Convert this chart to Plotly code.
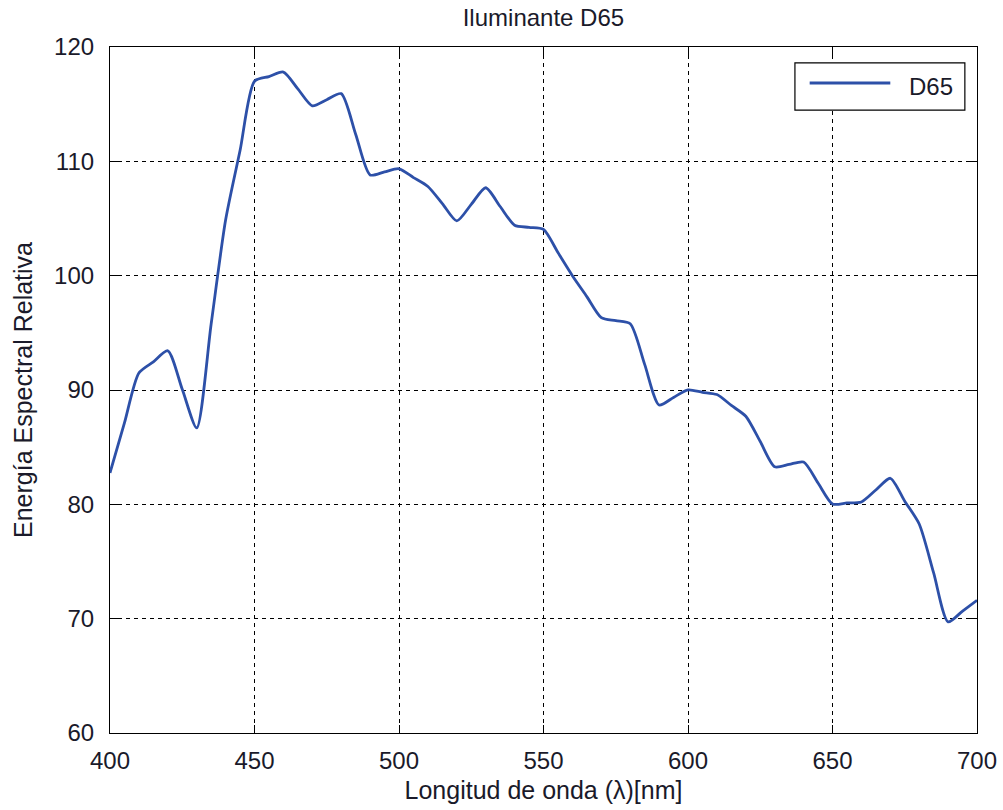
import plotly.graph_objects as go

wavelength = list(range(400, 705, 5))
d65 = [82.75, 87.12, 91.49, 92.46, 93.43, 90.06, 86.68, 95.77, 104.86, 110.94,
       117.01, 117.41, 117.81, 116.34, 114.86, 115.39, 115.92, 112.37, 108.81, 109.08,
       109.35, 108.58, 107.80, 106.30, 104.79, 106.24, 107.69, 106.05, 104.41, 104.23,
       104.05, 102.02, 100.00, 98.17, 96.33, 96.06, 95.79, 92.24, 88.69, 89.35,
       90.01, 89.80, 89.60, 88.65, 87.70, 85.49, 83.29, 83.49, 83.70, 81.86,
       80.03, 80.12, 80.21, 81.25, 82.28, 80.28, 78.28, 74.00, 69.72, 70.67, 71.61]
x_ticks = [400, 450, 500, 550, 600, 650, 700]
y_ticks = [60, 70, 80, 90, 100, 110, 120]
series_name = "D65"
title_text = "Iluminante D65"
x_title = "Longitud de onda (λ)[nm]"
y_title = "Energía Espectral Relativa"

LINE = "#2D50A8"
FONT = "Liberation Sans, Arial, sans-serif"

fig = go.Figure()
fig.add_trace(go.Scatter(x=wavelength, y=d65, mode="lines", name=series_name,
                         line=dict(color=LINE, width=2.8, shape="spline", smoothing=0.7),
                         showlegend=False))

axis_common = dict(showline=True, mirror="ticks", linecolor="black", linewidth=1.2,
                   ticks="inside", ticklen=8, tickcolor="black", tickwidth=1,
                   showgrid=True, gridcolor="black", gridwidth=1, griddash="4px,4px",
                   zeroline=False, tickfont=dict(family=FONT, size=24, color="#1a1a2a"))

fig.update_xaxes(range=[400, 700], tickvals=x_ticks, ticklabelstandoff=6,
                 title=dict(text=x_title, font=dict(family=FONT, size=25, color="#1a1a2a"), standoff=8),
                 **axis_common)
fig.update_yaxes(range=[60, 120], tickvals=y_ticks, ticklabelstandoff=10,
                 title=dict(text=y_title, font=dict(family=FONT, size=25, color="#1a1a2a"), standoff=14),
                 **axis_common)

# MATLAB-style legend box
fig.add_shape(type="rect", xref="paper", yref="paper", x0=0.790, x1=0.986, y0=0.908, y1=0.977,
              line=dict(color="black", width=1.2), fillcolor="white", layer="above")
fig.add_shape(type="line", xref="paper", yref="paper", x0=0.807, x1=0.900, y0=0.9475, y1=0.9475,
              line=dict(color=LINE, width=2.8), layer="above")
fig.add_annotation(xref="paper", yref="paper", x=0.919, y=0.9425, text=series_name,
                   showarrow=False, xanchor="left", yanchor="middle",
                   font=dict(family=FONT, size=24, color="#1a1a2a"))

fig.update_layout(
    width=1003, height=810,
    margin=dict(l=110, r=26, t=47, b=77, autoexpand=False),
    paper_bgcolor="white", plot_bgcolor="white",
    title=dict(text=title_text, x=0.5418, xanchor="center", y=0.978, yanchor="middle",
               font=dict(family=FONT, size=24, color="#1a1a2a")),
)

fig.write_html("out.html")
